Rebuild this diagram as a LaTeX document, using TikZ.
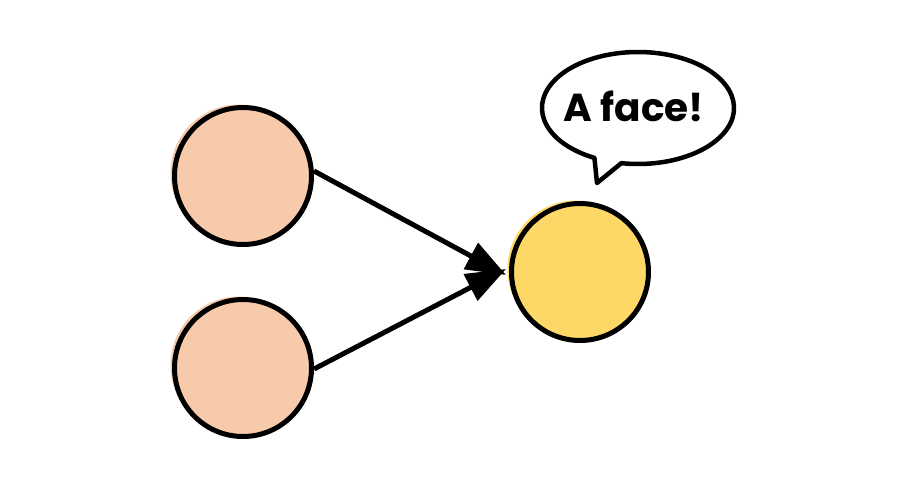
\documentclass[tikz,border=0pt]{standalone}
\usepackage{fontspec}
\setmainfont{Poppins}
\usetikzlibrary{arrows.meta}
\definecolor{peach}{RGB}{246,202,170}
\definecolor{sun}{RGB}{253,216,102}
\tikzset{
  neuron/.style={circle, draw=black, line width=5pt, minimum size=137pt, inner sep=0pt},
  blob/.style={circle, minimum size=137pt, inner sep=0pt},
  link/.style={line width=5pt, -{Triangle[length=40pt,width=29pt]}},
  bubble/.style={draw=black, line width=4.5pt, fill=white, line join=round}
}
\begin{document}
\begin{tikzpicture}[x=1pt,y=-1pt]
\useasboundingbox[fill=white] (0,0) rectangle (900,479);
% soft offset fills
\node[blob, fill=peach] at (239,173) {};
\node[blob, fill=peach] at (239,365) {};
\node[blob, fill=sun] at (576,269) {};
% neurons
\node[neuron, fill=peach] (a) at (243,176) {};
\node[neuron, fill=peach] (b) at (243,368) {};
\node[neuron, fill=sun] (c) at (580,272) {};
% connectors
\draw[link] ([yshift=5pt]a.east) -- ([xshift=-3pt,yshift=-3pt]c.west);
\draw[link] ([yshift=-1pt]b.east) -- ([xshift=-3pt,yshift=3pt]c.west);
% speech bubble
\draw[bubble] (638,108) ++(117:96 and 56) coordinate (t1)
  arc[start angle=117, end angle=460, x radius=96, y radius=56] coordinate (t2)
  -- (597,183) coordinate (tip) -- cycle;
\node[font=\bfseries\fontsize{39}{39}\selectfont] (lbl) at (634,106) {A face!};
\end{tikzpicture}
\end{document}
